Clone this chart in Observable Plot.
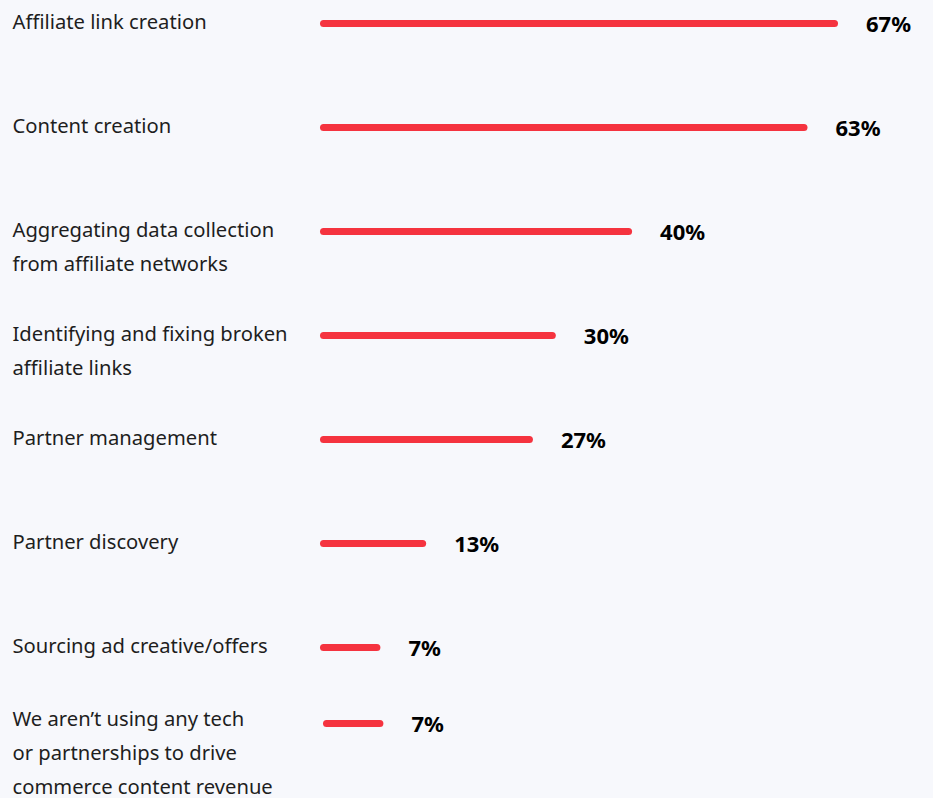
<!DOCTYPE html>
<html><head><meta charset="utf-8">
<script src="https://cdn.jsdelivr.net/npm/d3@7"></script>
<script src="https://cdn.jsdelivr.net/npm/@observablehq/plot@0.6"></script>
<style>
html,body{margin:0;padding:0;background:#f7f8fc;}
#chart svg{display:block;}
</style></head>
<body><div id="chart"></div>
<script>
const categories = [
  "Affiliate link creation",
  "Content creation",
  "Aggregating data collection\nfrom affiliate networks",
  "Identifying and fixing broken\naffiliate links",
  "Partner management",
  "Partner discovery",
  "Sourcing ad creative/offers",
  "We aren’t using any tech\nor partnerships to drive\ncommerce content revenue"
];
const values = [67, 63, 40, 30, 27, 13, 7, 7];
const valueLabels = ["67%", "63%", "40%", "30%", "27%", "13%", "7%", "7%"];

const data = categories.map((c, i) => ({category: c, value: values[i], label: valueLabels[i], last: i === categories.length - 1}));
const main = data.filter(d => !d.last);
const lastRow = data.filter(d => d.last);

const RED = "#f5333f";
const font = "'Noto Sans', sans-serif";
const ML = 323.5;

function marksFor(rows, dx, dy, ldy) {
  return [
    Plot.ruleY(rows, {y: "category", x1: 0, x2: "value", stroke: RED, strokeWidth: 7, strokeLinecap: "round", dx, dy}),
    Plot.text(rows, {y: "category", x: "value", text: "label", textAnchor: "start", dx: dx + 31, dy: dy + 1, fontSize: 22, fontWeight: 700, fill: "#000", fontFamily: font}),
    Plot.text(rows, {y: "category", frameAnchor: "left", text: "category", textAnchor: "start", lineAnchor: "top", dx: 12 - ML, dy: dy + ldy, lineHeight: 1.69, fontSize: 20.2, fill: "#1e1e1e", fontFamily: font})
  ];
}

const chart = Plot.plot({
  width: 933,
  height: 798,
  marginLeft: ML,
  marginRight: 98.5,
  marginTop: 21,
  marginBottom: 46,
  style: {background: "#f7f8fc", fontFamily: font},
  x: {domain: [0, 67], axis: null},
  y: {type: "point", domain: categories, axis: null, padding: 0},
  marks: [
    ...marksFor(main, 0, 0, -19),
    ...marksFor(lastRow, 3, -28, -22)
  ]
});
document.getElementById("chart").append(chart);
</script></body></html>
